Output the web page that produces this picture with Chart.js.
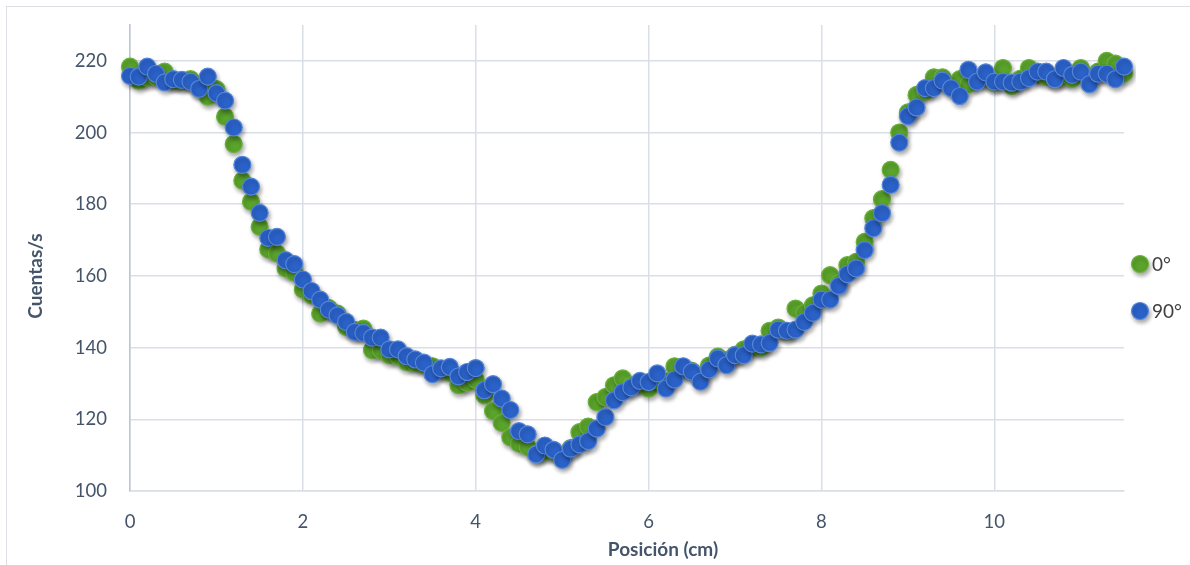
<!DOCTYPE html>
<html lang="es">
<head>
<meta charset="utf-8">
<script src="https://cdn.jsdelivr.net/npm/chart.js@4.4.1/dist/chart.umd.min.js"></script>
<style>
  html, body { margin: 0; padding: 0; background: #fff; }
  #marco { position: absolute; left: 6px; top: 6px; width: 1300px; height: 700px; border: 1.5px solid #dcdfe4; box-sizing: border-box; }
  #grafico { position: absolute; left: 0; top: 0; }
</style>
</head>
<body>
<div id="marco"></div>
<canvas id="grafico" width="1190" height="565"></canvas>
<script>
// Posición (cm)
const posiciones = [
  0, 0.1, 0.2, 0.3, 0.4, 0.5, 0.6, 0.7, 0.8, 0.9,
  1, 1.1, 1.2, 1.3, 1.4, 1.5, 1.6, 1.7, 1.8, 1.9,
  2, 2.1, 2.2, 2.3, 2.4, 2.5, 2.6, 2.7, 2.8, 2.9,
  3, 3.1, 3.2, 3.3, 3.4, 3.5, 3.6, 3.7, 3.8, 3.9,
  4, 4.1, 4.2, 4.3, 4.4, 4.5, 4.6, 4.7, 4.8, 4.9,
  5, 5.1, 5.2, 5.3, 5.4, 5.5, 5.6, 5.7, 5.8, 5.9,
  6, 6.1, 6.2, 6.3, 6.4, 6.5, 6.6, 6.7, 6.8, 6.9,
  7, 7.1, 7.2, 7.3, 7.4, 7.5, 7.6, 7.7, 7.8, 7.9,
  8, 8.1, 8.2, 8.3, 8.4, 8.5, 8.6, 8.7, 8.8, 8.9,
  9, 9.1, 9.2, 9.3, 9.4, 9.5, 9.6, 9.7, 9.8, 9.9,
  10, 10.1, 10.2, 10.3, 10.4, 10.5, 10.6, 10.7, 10.8, 10.9,
  11, 11.1, 11.2, 11.3, 11.4, 11.5
];

// Cuentas/s a 0°
const cuentas0 = [
  218.4, 214.5, 215.3, 215.5, 217, 214.5, 214.3, 214.9, 212.5, 210,
  212.1, 204.4, 196.8, 186.6, 180.7, 173.7, 167.4, 166.3, 162.1, 160.9,
  156.2, 154.6, 149.5, 151, 149.5, 145.8, 144.9, 145.3, 139.3, 139.3,
  137.9, 137.6, 136, 135.6, 135.2, 134.8, 134, 133, 129.5, 130.2,
  131, 126.7, 122.3, 119, 115, 113.2, 112.3, 110.5, 111, 110.9,
  110, 112, 116.4, 118, 124.8, 126.2, 129.5, 131.4, 129.5, 130,
  128.6, 131, 130.5, 134.8, 134, 133.5, 132, 135, 137.5, 136.5,
  138, 139.5, 140, 140, 144.7, 145.6, 144.5, 150.9, 149.7, 151.8,
  155.1, 160.2, 158, 163, 163.9, 169.5, 176.1, 181.4, 189.6, 200,
  205.6, 210.5, 211.5, 215.4, 215.4, 213, 214.9, 213.5, 215, 215,
  214, 218, 213, 215, 218, 216, 215.5, 215, 215.5, 215,
  218, 215, 217, 220, 219.2, 216.5
];

// Cuentas/s a 90°
const cuentas90 = [
  215.8, 215.6, 218.4, 216.4, 214, 214.9, 214.7, 214.2, 212.2, 215.6,
  211, 208.9, 201.4, 191, 184.9, 177.6, 170.6, 170.9, 164.4, 163.3,
  159, 155.8, 153.4, 150.6, 149, 147.2, 144.4, 144.1, 142.8, 142.8,
  139.5, 139.5, 137.6, 136.7, 135.8, 132.6, 134.2, 134.6, 132, 133.2,
  134.3, 128.1, 129.8, 125.8, 122.6, 116.7, 115.8, 110.2, 112.7, 111.5,
  108.7, 111.8, 113, 113.9, 117.4, 120.6, 125.3, 127.6, 128.9, 130.7,
  130.4, 132.8, 128.6, 131.1, 134.8, 133.3, 130.5, 133.9, 137, 135.1,
  137.9, 137.9, 141.1, 140.9, 141.3, 145, 144.7, 145, 147.2, 149.7,
  153.4, 153.4, 157.2, 160.5, 162.1, 167.2, 173.3, 177.5, 185.4, 197.2,
  204.6, 207, 212.4, 212.4, 214.5, 212.4, 210.2, 217.5, 214.2, 216.8,
  214.2, 214.2, 213.9, 214.2, 215.2, 217, 217, 214.9, 218, 216.1,
  217, 213.5, 216.4, 216.4, 214.9, 218.4
];

const nombresSeries = ["0°", "90°"];
const ticksX = [0, 2, 4, 6, 8, 10];
const ticksY = [100, 120, 140, 160, 180, 200, 220];

const colorTexto = "#44546A";
const colorGrilla = "#d9dee7";
const fuente = "Lato, 'Open Sans', sans-serif";

// Sombra de los puntos (como el efecto de Excel)
const sombraPuntos = {
  id: "sombraPuntos",
  beforeDatasetsDraw(chart) {
    const ctx = chart.ctx;
    ctx.save();
    ctx.shadowColor = "rgba(0,0,0,0.35)";
    ctx.shadowBlur = 4;
    ctx.shadowOffsetX = 1.5;
    ctx.shadowOffsetY = 3;
  },
  afterDatasetsDraw(chart) {
    chart.ctx.restore();
  }
};

// Titulos de ejes y leyenda
const titulosYLeyenda = {
  id: "titulosYLeyenda",
  afterDraw(chart) {
    const ctx = chart.ctx;
    const area = chart.chartArea;

    ctx.save();
    ctx.fillStyle = colorTexto;
    ctx.font = "bold 19px " + fuente;
    ctx.textAlign = "center";
    ctx.textBaseline = "middle";
    ctx.fillText("Posición (cm)", 663, 550);

    ctx.translate(36, 276);
    ctx.rotate(-Math.PI / 2);
    ctx.fillText("Cuentas/s", 0, 0);
    ctx.restore();

    // leyenda a la derecha
    const yLeyenda = [264, 311];
    chart.data.datasets.forEach((ds, i) => {
      const x = area.right + 16;
      const y = yLeyenda[i];
      ctx.save();
      ctx.shadowColor = "rgba(0,0,0,0.35)";
      ctx.shadowBlur = 4;
      ctx.shadowOffsetX = 1.5;
      ctx.shadowOffsetY = 3;
      ctx.beginPath();
      ctx.arc(x, y, 8.5, 0, Math.PI * 2);
      ctx.fillStyle = ds.backgroundColor;
      ctx.fill();
      ctx.lineWidth = ds.borderWidth;
      ctx.strokeStyle = ds.borderColor;
      ctx.stroke();
      ctx.restore();

      ctx.save();
      ctx.fillStyle = "#404040";
      ctx.font = "19px " + fuente;
      ctx.textAlign = "left";
      ctx.textBaseline = "middle";
      ctx.fillText(ds.label, x + 12, y + 1);
      ctx.restore();
    });
  }
};

const datos0 = posiciones.map((x, i) => ({ x: x, y: cuentas0[i] }));
const datos90 = posiciones.map((x, i) => ({ x: x, y: cuentas90[i] }));

const ctx = document.getElementById("grafico").getContext("2d");

new Chart(ctx, {
  type: "scatter",
  data: {
    datasets: [
      {
        label: nombresSeries[0],
        data: datos0,
        backgroundColor: "#5BA42B",
        borderColor: "#6BB13B",
        borderWidth: 1.2,
        pointRadius: 8.5,
        order: 2,
        clip: 12
      },
      {
        label: nombresSeries[1],
        data: datos90,
        backgroundColor: "#2B62C9",
        borderColor: "#5587DB",
        borderWidth: 1.2,
        pointRadius: 8.5,
        order: 1,
        clip: 12
      }
    ]
  },
  options: {
    responsive: false,
    animation: false,
    layout: {
      padding: { top: 25, right: 66, left: 0, bottom: 0 }
    },
    plugins: {
      legend: { display: false },
      tooltip: { enabled: false }
    },
    scales: {
      x: {
        type: "linear",
        min: 0,
        max: 11.5,
        afterBuildTicks: (scale) => {
          scale.ticks = ticksX.map(v => ({ value: v }));
        },
        afterFit: (scale) => {
          scale.height = 74;
          scale.paddingLeft = 0;
          scale.paddingRight = 0;
        },
        grid: { color: colorGrilla, lineWidth: 1.5, drawTicks: false },
        border: { color: colorGrilla, width: 1.5 },
        ticks: {
          padding: 20,
          color: colorTexto,
          font: { family: fuente, size: 18.5 }
        }
      },
      y: {
        min: 100,
        max: 230,
        afterBuildTicks: (scale) => {
          scale.ticks = ticksY.map(v => ({ value: v }));
        },
        afterFit: (scale) => {
          scale.width = 130;
          scale.paddingTop = 0;
          scale.paddingBottom = 0;
        },
        grid: { color: colorGrilla, lineWidth: 1.5, drawTicks: false },
        border: { color: "#bcc5d5", width: 1.5 },
        ticks: {
          padding: 23,
          color: colorTexto,
          font: { family: fuente, size: 18.5 }
        }
      }
    }
  },
  plugins: [sombraPuntos, titulosYLeyenda]
});
</script>
</body>
</html>
